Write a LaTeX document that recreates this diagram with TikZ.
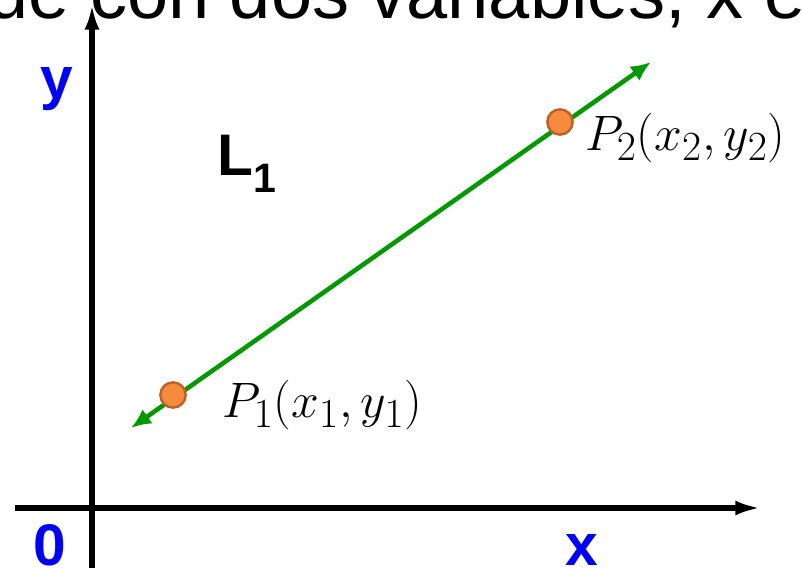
\documentclass[tikz,border=0pt]{standalone}
\usepackage{fontspec}
\setmainfont{Liberation Sans}
\usepackage{tikz}
\usetikzlibrary{arrows.meta,positioning}
\definecolor{lgreen}{RGB}{0,153,0}
\definecolor{ptfill}{RGB}{246,139,61}
\definecolor{ptdraw}{RGB}{190,95,40}
\newcommand{\fs}[1]{\fontsize{#1}{#1}\selectfont}

\begin{document}
\begin{tikzpicture}[x=0.75pt,y=-0.75pt,
  axis/.style={line width=4pt,-{Latex[length=20pt,width=11pt]}},
  axlbl/.style={text=blue,font=\fs{44}\bfseries,inner sep=0pt},
  ptdot/.style={circle,fill=ptfill,draw=ptdraw,line width=1.8pt,minimum size=19pt,inner sep=0pt},
  ptlbl/.style={font=\fs{24.88},scale=1.5,transform shape,inner sep=0pt,anchor=west}]
  \useasboundingbox (0,0) rectangle (803,574);
  % cut-off heading
  \begin{scope}
    \clip (0,0) rectangle (803,574);
    \node[anchor=base west,inner sep=0pt,font=\fs{55.5}] (head) at (-13,19) {ue con dos variables, x e};
  \end{scope}
  % axes
  \coordinate (xs) at (15,508);
  \coordinate (xe) at (762,508);
  \coordinate (ys) at (92,568);
  \coordinate (ye) at (92,3);
  \draw[axis] (xs) -- (xe);
  \draw[axis] (ys) -- (ye);
  \node[axlbl] (ylbl) at (57,89) {y};
  \node[axlbl] (xlbl) at (582,550) {x};
  \node[axlbl] (olbl) at (50,545) {0};
  \node[font=\fs{44}\bfseries,inner sep=0pt] (L1) at (247,164) {L\textsubscript{1}};
  % line through the two points
  \coordinate (a) at (131,428);
  \coordinate (b) at (651,62);
  \draw[lgreen,line width=3.4pt,{Latex[length=15pt,width=13pt]}-{Latex[length=15pt,width=13pt]}] (a) -- (b);
  \node[ptdot] (P1) at (173,395) {};
  \node[ptdot] (P2) at (560,122) {};
  \node[ptlbl] (p1lbl) at (222,405) {$P_1(x_1,y_1)$};
  \node[ptlbl] (p2lbl) at (585,138) {$P_2(x_2,y_2)$};
\end{tikzpicture}
\end{document}
